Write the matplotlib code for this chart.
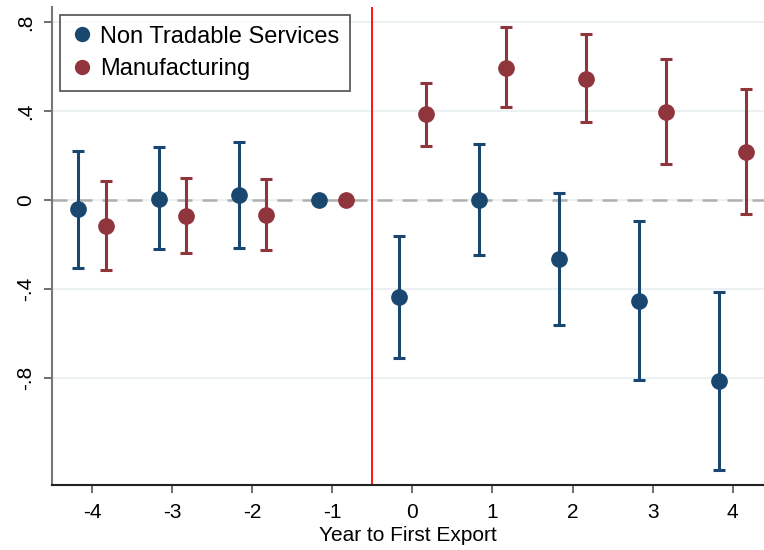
import matplotlib
matplotlib.use("Agg")
import matplotlib.pyplot as plt

# event time
years = [-4, -3, -2, -1, 0, 1, 2, 3, 4]

# Non Tradable Services: point estimate and 95% CI
nts_coef = [-0.04, 0.005, 0.022, 0.0, -0.435, 0.0, -0.265, -0.453, -0.814]
nts_lo = [-0.305, -0.22, -0.216, 0.0, -0.71, -0.247, -0.56, -0.81, -1.214]
nts_hi = [0.22, 0.24, 0.26, 0.0, -0.16, 0.25, 0.03, -0.094, -0.413]

# Manufacturing
man_coef = [-0.117, -0.072, -0.067, 0.0, 0.386, 0.595, 0.545, 0.397, 0.216]
man_lo = [-0.315, -0.24, -0.225, 0.0, 0.243, 0.418, 0.348, 0.162, -0.064]
man_hi = [0.085, 0.099, 0.094, 0.0, 0.525, 0.775, 0.744, 0.632, 0.5]

ytick_vals = [-0.8, -0.4, 0, 0.4, 0.8]
ytick_labels = ['-.8', '-.4', '0', '.4', '.8']

blue = '#1a476f'
red = '#90353b'

plt.rcParams['font.family'] = ['Liberation Sans', 'DejaVu Sans']

fig = plt.figure(figsize=(7.64, 5.5), dpi=100)
ax = fig.add_axes([52/764, 65/550, 712/764, 478/550])

# light gridlines like stata s2color
for v in ytick_vals:
    ax.axhline(v, color='#e8eff1', lw=1.2, zorder=0)
ax.axhline(0, color='#b0b0b0', lw=1.8, ls=(0, (6, 4)), zorder=1)
ax.axvline(-0.5, color='red', lw=1.3, zorder=1)

off = 0.17
x_nts = [x - off for x in years]
x_man = [x + off for x in years]

def err(c, lo, hi):
    return [[ci - l for ci, l in zip(c, lo)], [h - ci for ci, h in zip(c, hi)]]

for xs, c, lo, hi, col, lab in [(x_nts, nts_coef, nts_lo, nts_hi, blue, 'Non Tradable Services'),
                                (x_man, man_coef, man_lo, man_hi, red, 'Manufacturing')]:
    ax.errorbar(xs, c, yerr=err(c, lo, hi), fmt='none', ecolor=col,
                elinewidth=2.2, capsize=4.5, capthick=2.2, zorder=2)
    ax.plot(xs, c, 'o', color=col, ms=11, label=lab, zorder=3)

ax.set_xlim(-4.5, 4.39)
ax.set_ylim(-1.281, 0.867)
ax.set_xticks(years)
ax.set_xticklabels([str(y) for y in years])
ax.set_yticks(ytick_vals)
ax.set_yticklabels(ytick_labels, rotation=90, va='center')
ax.tick_params(axis='both', labelsize=15, length=6, width=1.2, color='#555555')
ax.tick_params(axis='y', pad=6)
ax.tick_params(axis='x', pad=7)
ax.set_xlabel('Year to First Export', fontsize=15, labelpad=3)

ax.spines['top'].set_visible(False)
ax.spines['right'].set_visible(False)
ax.spines['left'].set_color('#777777')
ax.spines['left'].set_linewidth(1.5)
ax.spines['bottom'].set_color('#222222')
ax.spines['bottom'].set_linewidth(1.5)

leg = ax.legend(loc='upper left', bbox_to_anchor=(8/712, 1 - 8/478), fontsize=17,
                frameon=True, fancybox=False, handletextpad=0.25, handlelength=1.0,
                borderpad=0.45, labelspacing=0.45, borderaxespad=0)
leg.get_frame().set_edgecolor('#222222')
leg.get_frame().set_linewidth(1.2)
for h in leg.legend_handles:
    h.set_markersize(10)

fig.savefig('out.png', dpi=100)
